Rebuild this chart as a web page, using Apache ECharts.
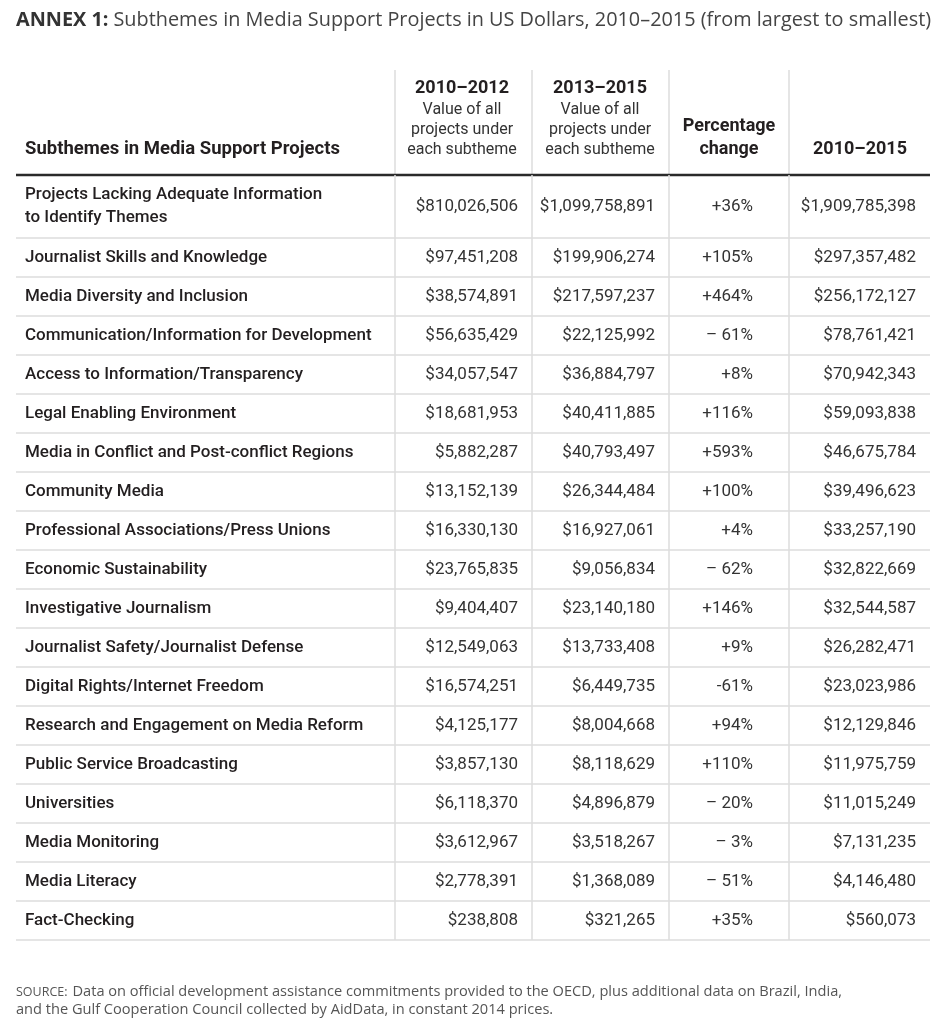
<!DOCTYPE html>
<html><head><meta charset="utf-8">
<script src="https://cdn.jsdelivr.net/npm/echarts@6/dist/echarts.min.js"></script>
<style>html,body{margin:0;padding:0;background:#fff}#c{width:939px;height:1024px}</style>
</head><body><div id="c"></div>
<script>
// ---------- DATA ----------
const subthemes = [
  'Projects Lacking Adequate Information\nto Identify Themes',
  'Journalist Skills and Knowledge',
  'Media Diversity and Inclusion',
  'Communication/Information for Development',
  'Access to Information/Transparency',
  'Legal Enabling Environment',
  'Media in Conflict and Post-conflict Regions',
  'Community Media',
  'Professional Associations/Press Unions',
  'Economic Sustainability',
  'Investigative Journalism',
  'Journalist Safety/Journalist Defense',
  'Digital Rights/Internet Freedom',
  'Research and Engagement on Media Reform',
  'Public Service Broadcasting',
  'Universities',
  'Media Monitoring',
  'Media Literacy',
  'Fact-Checking'
];
const value2010to2012 = [810026506, 97451208, 38574891, 56635429, 34057547, 18681953, 5882287, 13152139, 16330130, 23765835, 9404407, 12549063, 16574251, 4125177, 3857130, 6118370, 3612967, 2778391, 238808];
const value2013to2015 = [1099758891, 199906274, 217597237, 22125992, 36884797, 40411885, 40793497, 26344484, 16927061, 9056834, 23140180, 13733408, 6449735, 8004668, 8118629, 4896879, 3518267, 1368089, 321265];
const percentageChange = ['+36%', '+105%', '+464%', '\u2013 61%', '+8%', '+116%', '+593%', '+100%', '+4%', '\u2013 62%', '+146%', '+9%', '-61%', '+94%', '+110%', '\u2013 20%', '\u2013 3%', '\u2013 51%', '+35%'];
const value2010to2015 = [1909785398, 297357482, 256172127, 78761421, 70942343, 59093838, 46675784, 39496623, 33257190, 32822669, 32544587, 26282471, 23023986, 12129846, 11975759, 11015249, 7131235, 4146480, 560073];

const headerFirstColumn = 'Subthemes in Media Support Projects';
const headerYears = ['2010\u20132012', '2013\u20132015'];
const headerSub = ['Value of all', 'projects under', 'each subtheme'];
const headerPct = ['Percentage', 'change'];
const headerTotal = '2010\u20132015';

const titleLead = 'ANNEX 1:';
const titleText = 'Subthemes in Media Support Projects in US Dollars, 2010\u20132015 (from largest to smallest)';
const sourceLead = 'SOURCE:';
const sourceText1 = 'Data on official development assistance commitments provided to the OECD, plus additional data on Brazil, India,';
const sourceText2 = 'and the Gulf Cooperation Council collected by AidData, in constant 2014 prices.';

// ---------- LAYOUT (pixel-like axis units) ----------
const W = 914, HEADER_H = 105, FIRST_H = 63, ROW_H = 39;
const TOTAL_H = HEADER_H + FIRST_H + (subthemes.length - 1) * ROW_H;
const VLINES = [379, 516, 653, 773];
const RIGHTS = [502, 639, 737, 900];
const LABEL_X = 9;
const HEAD_CENTERS = [446, 584, 713, 844];
const FONT = 'Roboto';
const GRID_C = '#dcdcdc';

function rowTop(i) { return i === 0 ? HEADER_H : HEADER_H + FIRST_H + (i - 1) * ROW_H; }
function rowBottom(i) { return rowTop(i) + (i === 0 ? FIRST_H : ROW_H); }
const fmt = v => '$' + v.toLocaleString('en-US');

function txt(p, text, o) {
  return { type: 'text', style: Object.assign({ text: text, x: p[0], y: p[1], fill: '#333', fontSize: 17, fontFamily: FONT, align: 'left', verticalAlign: 'middle' }, o || {}) };
}
function ln(a, b, stroke, w) {
  return { type: 'line', shape: { x1: a[0], y1: a[1], x2: b[0], y2: b[1] }, style: { stroke: stroke, lineWidth: w } };
}

function renderRow(params, api) {
  const i = api.value(0);
  const t = rowTop(i), b = rowBottom(i), m = (t + b) / 2;
  const P = (x, y) => api.coord([x, y]);
  const ch = [];
  ch.push(ln(P(0, b), P(W, b), GRID_C, 1.5));
  VLINES.forEach(v => ch.push(ln(P(v, t), P(v, b), GRID_C, 1.5)));
  ch.push(txt(P(LABEL_X, m), subthemes[i], { fill: '#231f20', fontWeight: 500, lineHeight: 23 }));
  const vals = [fmt(value2010to2012[i]), fmt(value2013to2015[i]), percentageChange[i], fmt(value2010to2015[i])];
  vals.forEach((s, k) => ch.push(txt(P(RIGHTS[k], m), s, { align: 'right', fill: '#333' })));
  return { type: 'group', children: ch };
}

function renderHeader(params, api) {
  const P = (x, y) => api.coord([x, y]);
  const ch = [];
  VLINES.forEach(v => ch.push(ln(P(v, 0), P(v, HEADER_H), GRID_C, 1.5)));
  ch.push(ln(P(0, HEADER_H), P(W, HEADER_H), '#2a2a2a', 2.5));
  const bold = { fill: '#231f20', fontWeight: 'bold', fontSize: 18, align: 'center' };
  const reg = { fill: '#333', fontSize: 16, align: 'center' };
  ch.push(txt(P(LABEL_X, 79), headerFirstColumn, { fill: '#231f20', fontWeight: 'bold', fontSize: 18.5 }));
  headerYears.forEach((y, k) => {
    ch.push(txt(P(HEAD_CENTERS[k], 18), y, bold));
    headerSub.forEach((s, j) => ch.push(txt(P(HEAD_CENTERS[k], 40 + j * 20), s, reg)));
  });
  ch.push(txt(P(HEAD_CENTERS[2], 56), headerPct[0], bold));
  ch.push(txt(P(HEAD_CENTERS[2], 79), headerPct[1], bold));
  ch.push(txt(P(HEAD_CENTERS[3], 79), headerTotal, bold));
  return { type: 'group', children: ch };
}

const chart = echarts.init(document.getElementById('c'), null, { renderer: 'canvas' });
chart.setOption({
  backgroundColor: '#fff',
  animation: false,
  title: [
    {
      left: 16, top: 10, padding: 0,
      text: '{a|' + titleLead + '} {b|' + titleText + '}',
      textStyle: {
        fontWeight: 'normal',
        rich: {
          a: { fontFamily: 'Open Sans', fontWeight: 'bold', fontSize: 19.85, color: '#333' },
          b: { fontFamily: 'Open Sans', fontWeight: 'normal', fontSize: 19.85, color: '#444' }
        }
      }
    },
    {
      left: 16, top: 983, padding: 0,
      text: '{a|' + sourceLead + '} {b|' + sourceText1 + '}\n{b|' + sourceText2 + '}',
      textStyle: {
        fontWeight: 'normal',
        rich: {
          a: { fontFamily: 'Open Sans', fontWeight: 'normal', fontSize: 12.5, color: '#555', lineHeight: 18 },
          b: { fontFamily: 'Open Sans', fontWeight: 'normal', fontSize: 14.6, color: '#555', lineHeight: 18 }
        }
      }
    }
  ],
  grid: { left: 16, top: 70, width: W, height: TOTAL_H },
  xAxis: { type: 'value', min: 0, max: W, show: false },
  yAxis: { type: 'value', min: 0, max: TOTAL_H, inverse: true, show: false },
  series: [
    { type: 'custom', renderItem: renderHeader, data: [[0]], silent: true },
    { type: 'custom', renderItem: renderRow, data: subthemes.map((_, i) => [i]), silent: true }
  ]
});
</script>
</body></html>
